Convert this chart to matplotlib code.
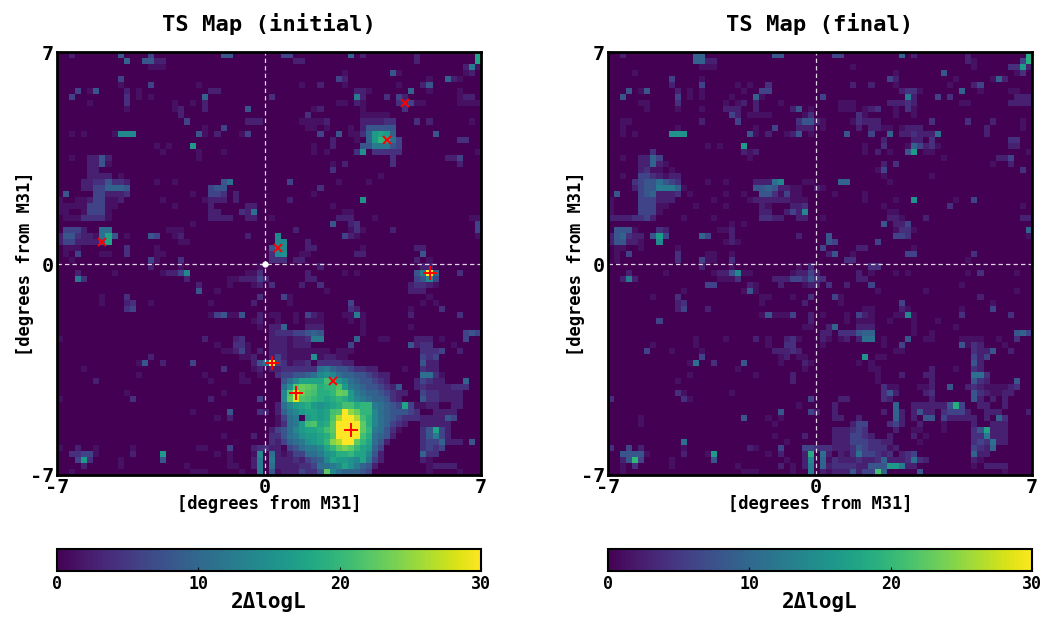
import matplotlib
matplotlib.use("Agg")
import matplotlib.pyplot as plt
import numpy as np

# TS levels, 70x70 cells, row 0 at the top
# sparse quadrants are {row: {col: level}}, anything missing is 0
# dense quadrants are {row: [(first col, [levels]), ...]}
initial_tl = {
    0: {2: 3, 10: 6, 15: 5, 27: 6, 28: 6},
    1: {11: 7, 14: 6, 15: 6, 16: 3, 17: 3},
    2: {15: 2, 16: 2, 17: 2},
    4: {10: 5},
    5: {10: 2, 15: 5, 23: 2},
    6: {3: 5, 5: 2, 6: 6, 11: 3, 13: 2, 25: 3, 26: 3},
    7: {2: 5, 11: 4, 13: 2, 15: 2, 24: 7},
    8: {5: 2, 11: 4, 19: 2, 22: 2, 24: 3},
    9: {11: 2, 19: 2, 20: 3, 24: 3, 31: 6},
    10: {20: 3},
    11: {21: 5, 31: 3, 32: 3, 33: 3},
    12: {24: 2, 27: 5},
    13: {2: 2, 4: 2, 9: 2, 10: 10, 11: 10, 12: 10, 23: 6, 24: 2, 26: 3, 30: 2, 31: 5},
    15: {16: 2, 18: 2, 22: 12},
    16: {17: 2, 23: 2, 27: 2},
    17: {2: 2, 5: 3, 6: 3, 7: 6, 8: 3, 23: 2},
    18: {5: 3, 6: 3, 7: 6, 8: 2},
    19: {5: 3, 6: 3},
    20: {5: 3, 6: 3, 7: 3, 8: 3, 10: 2},
    21: {4: 3, 5: 3, 6: 4, 7: 4, 8: 6, 9: 4, 10: 4, 11: 3, 16: 2, 19: 2, 27: 6, 28: 8},
    22: {4: 3, 5: 3, 6: 5, 7: 5, 8: 7, 9: 7, 10: 7, 11: 6, 25: 5, 26: 6, 27: 6},
    23: {1: 6, 6: 5, 7: 5, 8: 3, 9: 3, 10: 3, 11: 4, 22: 2, 25: 5, 26: 5, 27: 4, 29: 3},
    24: {0: 2, 3: 2, 4: 2, 5: 3, 6: 5, 7: 5, 8: 2, 9: 2, 10: 3, 17: 2, 24: 2, 25: 3, 26: 3, 27: 3, 29: 3},
    25: {0: 2, 1: 2, 2: 2, 3: 2, 4: 2, 5: 5, 6: 5, 7: 5, 8: 2, 9: 2, 19: 2, 25: 3, 31: 3, 32: 3},
    26: {0: 2, 1: 2, 4: 2, 5: 5, 6: 5, 7: 5, 8: 2, 25: 3, 26: 3, 30: 4, 31: 3, 32: 8},
    27: {1: 2, 2: 2, 3: 2, 4: 4, 5: 4, 6: 4, 7: 4, 8: 2, 25: 3, 26: 3, 27: 3, 28: 3, 31: 3, 32: 3},
    28: {22: 2},
    29: {1: 5, 2: 5, 3: 5, 4: 3, 7: 8, 8: 8, 18: 2, 19: 2, 20: 2},
    30: {0: 3, 1: 6, 2: 6, 3: 4, 4: 3, 5: 3, 6: 2, 7: 8, 8: 13, 9: 6, 11: 2, 15: 6, 16: 5, 19: 2, 20: 3, 31: 3},
    31: {0: 3, 1: 5, 2: 5, 3: 3, 4: 3, 5: 3, 6: 3, 7: 6, 8: 13, 20: 2, 21: 2},
    32: {1: 2, 2: 2, 3: 2, 11: 4, 16: 2},
    33: {1: 2, 3: 5, 7: 2, 8: 2, 11: 4, 16: 2, 17: 2},
    34: {2: 2, 15: 5, 16: 2, 20: 4},
}
initial_tr = {
    0: {37: 5, 38: 5, 48: 7, 50: 3, 59: 3, 69: 13},
    1: {39: 3, 40: 3, 59: 3, 69: 13},
    2: {67: 3, 68: 9, 69: 2},
    3: {47: 2, 55: 6, 56: 2, 67: 2, 68: 3},
    4: {46: 5, 47: 3, 61: 2, 64: 7, 65: 3, 66: 2},
    5: {40: 2, 43: 3, 47: 2, 56: 2, 60: 3, 61: 6},
    6: {49: 3, 50: 3, 51: 2, 58: 7, 61: 2, 66: 2},
    7: {35: 4, 49: 9, 50: 3, 54: 4, 56: 5, 57: 3, 66: 2, 67: 3, 68: 3},
    8: {46: 2, 47: 2, 49: 3, 50: 2, 56: 4, 57: 4, 58: 5, 59: 2, 60: 2, 66: 2, 67: 2, 68: 2, 69: 2},
    9: {42: 2, 43: 3, 50: 2, 57: 4},
    10: {41: 4, 50: 2, 51: 2, 52: 2, 53: 2, 54: 2},
    11: {40: 2, 41: 2, 42: 2, 43: 2, 44: 3, 50: 3, 51: 3, 52: 3, 53: 3, 54: 4, 55: 4, 59: 4, 61: 3, 68: 2},
    12: {41: 2, 42: 2, 44: 2, 48: 2, 50: 3, 51: 6, 52: 6, 53: 6, 54: 6, 55: 6},
    13: {43: 5, 46: 6, 48: 2, 49: 2, 50: 4, 51: 7, 52: 12, 53: 13, 54: 12, 55: 7, 62: 6},
    14: {45: 3, 49: 2, 51: 7, 52: 12, 53: 15, 54: 14, 55: 8, 56: 5, 66: 4, 67: 4},
    15: {42: 2, 45: 3, 50: 6, 51: 6, 52: 9, 53: 9, 54: 9, 55: 6, 56: 5},
    16: {42: 2, 44: 2, 49: 4, 50: 11, 52: 4, 53: 4, 54: 4, 55: 4, 56: 4, 69: 2},
    17: {55: 4, 64: 3, 65: 3, 66: 5},
    18: {45: 2, 47: 3, 55: 4, 66: 3},
    19: {45: 4},
    20: {53: 2},
    21: {38: 5, 46: 2, 51: 2},
    22: {43: 4},
    23: {42: 2},
    24: {38: 3, 50: 11},
    25: {45: 2},
    26: {47: 2, 48: 2},
    27: {35: 2, 46: 3, 47: 3, 48: 3, 52: 2, 68: 2, 69: 2},
    28: {45: 6, 48: 3, 49: 4, 69: 5},
    29: {39: 3, 48: 2, 49: 4, 50: 2, 55: 3, 69: 5},
    30: {36: 10, 47: 5, 48: 3, 49: 2, 69: 2},
    31: {36: 10, 37: 10, 41: 3},
    32: {35: 6, 36: 10, 37: 10, 41: 3, 42: 3, 50: 2, 59: 3, 60: 3},
    33: {35: 4, 36: 10, 37: 11, 40: 2, 41: 2, 49: 3, 50: 3, 60: 6},
    34: {35: 4, 36: 4, 37: 4, 39: 3, 40: 3, 59: 3, 61: 2},
}
initial_bl = {
    35: {15: 3, 20: 2, 33: 2},
    36: {3: 3, 9: 2, 17: 2, 18: 3, 19: 3, 20: 5, 21: 10, 31: 2, 32: 2, 33: 4},
    37: {3: 9, 4: 4, 21: 3, 28: 2, 29: 2, 30: 3, 31: 3, 32: 3, 33: 5, 34: 3},
    38: {23: 3, 28: 2, 32: 2, 33: 3},
    39: {23: 6, 26: 2},
    40: {7: 2, 11: 4, 33: 4},
    41: {7: 2, 11: 3, 12: 4, 15: 2, 25: 2, 32: 3},
    42: {11: 4, 12: 5},
    43: {25: 2, 26: 5, 27: 6, 28: 2, 29: 2, 30: 6, 33: 3},
    44: {32: 2, 33: 3},
    45: {33: 2},
    47: {0: 2, 24: 3, 29: 3, 30: 4},
    48: {26: 2, 29: 4, 30: 4, 31: 2},
    49: {27: 2, 28: 2, 29: 3, 30: 5, 31: 2, 33: 3},
    50: {15: 3, 30: 2, 31: 2, 32: 3},
    51: {13: 2, 14: 6, 17: 3, 22: 5, 32: 3, 33: 6, 34: 8},
    52: {4: 2, 27: 4, 32: 2, 33: 3},
    53: {13: 2, 24: 2, 30: 2, 33: 2},
    54: {6: 3, 25: 2, 30: 2, 31: 2},
    56: {11: 2, 27: 2},
    57: {0: 2, 12: 4, 25: 3, 33: 5},
    59: {22: 2, 28: 6, 33: 4, 34: 3},
    60: {26: 2, 28: 3},
    63: {27: 2, 32: 3},
    64: {29: 1},
    65: {0: 2, 3: 3, 6: 2, 12: 2, 23: 2, 24: 2, 28: 5, 32: 3, 33: 4, 34: 4},
    66: {2: 4, 3: 4, 4: 5, 5: 5, 6: 2, 12: 3, 17: 12, 26: 2, 28: 2, 32: 2, 33: 10},
    67: {3: 5, 4: 12, 5: 4, 10: 2, 17: 6, 28: 2, 32: 3, 33: 9},
    68: {4: 3, 10: 2, 21: 2, 28: 2, 29: 2, 32: 3, 33: 9},
    69: {2: 2, 22: 2, 23: 2, 24: 2, 30: 2, 33: 9},
}
initial_br = {
    35: [(43, [3]), (60, [3, 3])],
    36: [(41, [3]), (47, [2]), (49, [2]), (59, [6, 9, 30, 7]), (66, [4])],
    37: [(41, [3, 3]), (59, [5, 6, 10, 5])],
    38: [(35, [4]), (40, [3]), (43, [4]), (58, [3, 4, 4, 3, 2])],
    39: [(44, [2]), (58, [3, 3, 3])],
    40: [(37, [5, 2]), (61, [2])],
    41: [(38, [2]), (48, [5]), (60, [2]), (62, [2])],
    42: [(48, [4, 3]), (58, [2]), (63, [4])],
    43: [(35, [2, 2]), (39, [2]), (41, [5, 3, 2]), (47, [2, 2, 9, 2]), (58, [3]), (66, [4])],
    44: [(36, [2]), (39, [2]), (41, [2, 2, 2]), (48, [2]), (50, [2])],
    45: [(35, [3, 3, 7]), (41, [3, 3, 3]), (50, [2]), (58, [2])],
    46: [(35, [3, 4, 4, 4, 5, 5, 6, 7, 6]), (50, [2]), (67, [5, 6, 5])],
    47: [(35, [3, 3, 3, 2, 3, 3, 4, 9, 9]), (49, [7]), (53, [2, 2]), (59, [3, 3, 3]), (63, [2]), (67, [5])],
    48: [(35, [3, 3, 3, 2, 3, 3, 3]), (48, [5]), (58, [6, 3, 4, 4]), (65, [2])],
    49: [(35, [3, 3, 3, 2, 2, 2, 2, 2, 2, 2]), (46, [2, 2, 2]), (60, [4, 4, 4, 5]), (66, [3])],
    50: [(35, [3, 5, 3, 2, 2, 2, 2, 11, 2, 3, 3, 2, 2]), (60, [5, 4, 5])],
    51: [(35, [30, 5, 4, 2, 3, 3, 4, 1, 4, 4, 4, 4, 3, 3]), (60, [6, 3, 3])],
    52: [(35, [3, 3, 4, 4, 4, 4, 4, 4, 8, 9, 7, 6, 6, 5, 4, 4, 3, 3]), (57, [2]), (60, [4, 3, 3])],
    53: [(36, [4, 5, 5, 6, 6, 7, 8, 10, 11, 10, 8, 7, 7, 6, 6, 5, 4, 3, 3]), (60, [8, 8, 4, 2])],
    54: [(37, [6, 8, 10, 13, 13, 13, 13, 16, 15, 12, 10, 8, 7, 6, 6, 5, 4, 3]), (59, [3, 5, 4, 3, 3]), (67, [7])],
    55: [(37, [8, 11, 17, 19, 18, 17, 14, 15, 15, 17, 12, 9, 8, 7, 6, 6, 5, 4, 3, 6]), (59, [3, 4, 3, 3, 3, 3, 4, 4, 4])],
    56: [(37, [10, 17, 28, 19, 17, 16, 14, 14, 15, 19, 18, 12, 9, 8, 7, 7, 6, 5, 4, 3, 3]), (60, [5, 4, 4, 3, 3, 3, 3])],
    57: [(37, [10, 18, 28, 17, 16, 15, 14, 13, 14, 15, 14, 12, 10, 9, 8, 7, 7, 6, 4, 3]), (60, [6, 4, 4, 3, 3, 3, 3])],
    58: [(36, [3, 8, 10, 12, 13, 14, 12, 11, 12, 13, 14, 16, 16, 14, 15, 15, 9, 8, 7, 6, 5, 13, 5, 2, 2, 3, 3]), (65, [3, 3])],
    59: [(36, [3, 7, 9, 10, 12, 13, 13, 12, 13, 16, 17, 30, 22, 19, 15, 15, 10, 8, 7, 6, 6, 6, 5, 4]), (62, [3, 3, 3, 3])],
    60: [(36, [2, 5, 8, 9, 1, 12, 13, 12, 13, 17, 24, 30, 30, 24, 16, 14, 10, 8, 7, 6, 5, 4, 4, 4, 3, 3, 3, 3, 6, 5])],
    61: [(36, [2, 4, 8, 9, 12, 16, 17, 13, 14, 18, 30, 30, 30, 30, 18, 14, 10, 8, 7, 5, 4, 3]), (60, [3, 3, 3, 3, 3])],
    62: [(35, [3, 5, 6, 8, 10, 12, 13, 13, 14, 16, 18, 30, 30, 30, 30, 18, 15, 9, 8, 6, 4, 2]), (60, [4, 6, 13, 5, 3])],
    63: [(35, [4, 4, 6, 8, 9, 11, 12, 12, 13, 14, 17, 30, 30, 30, 30, 16, 14, 8, 7, 6, 3]), (60, [4, 6, 9, 5, 3])],
    64: [(35, [4, 3, 5, 7, 8, 9, 11, 12, 13, 15, 21, 24, 30, 30, 18, 15, 13, 8, 6, 3]), (60, [4, 5, 5, 7, 3, 3, 3]), (68, [6])],
    65: [(35, [3, 3, 1, 5, 6, 8, 9, 9, 10, 13, 15, 18, 20, 18, 15, 13, 12, 7, 5]), (60, [4, 5, 4, 5])],
    66: [(35, [8, 3, 2, 3, 5, 5, 8, 8, 9, 11, 12, 14, 14, 15, 13, 13, 10, 6, 3]), (60, [7, 4, 4])],
    67: [(35, [9, 3, 3, 3, 4, 3, 5, 6, 7, 10, 13, 12, 12, 11, 10, 13, 9, 5, 3]), (60, [3, 2])],
    68: [(35, [8, 3, 3, 3, 3, 4, 4, 5, 8, 8, 9, 10, 13, 11, 9, 7, 6, 3]), (61, [2, 3, 3, 3, 3])],
    69: [(35, [6, 2, 3, 3, 3, 5, 4, 4, 6, 18, 10, 8, 7, 7, 7, 6, 5]), (61, [2]), (66, [2])],
}

final_tl = {
    0: {2: 3, 14: 7, 15: 7, 27: 6, 28: 6},
    1: {14: 7, 15: 7, 16: 3, 17: 3},
    2: {15: 2, 16: 2, 17: 2},
    3: {4: 2},
    4: {10: 5, 15: 2},
    5: {10: 3, 15: 5, 21: 2, 23: 2, 26: 4},
    6: {3: 6, 5: 2, 6: 6, 11: 3, 13: 2, 15: 2, 22: 2, 25: 5, 26: 5},
    7: {2: 6, 11: 5, 13: 2, 15: 2, 20: 2, 24: 7, 25: 2},
    8: {5: 2, 6: 2, 11: 4, 19: 2, 21: 2, 22: 3, 24: 3, 28: 2},
    9: {6: 2, 11: 2, 15: 2, 19: 3, 20: 3, 21: 3, 24: 3, 30: 3, 31: 6, 33: 2},
    10: {20: 5, 21: 3, 23: 2, 24: 2, 25: 2, 26: 2, 32: 2, 33: 4},
    11: {2: 2, 3: 2, 15: 3, 21: 5, 31: 4, 32: 6, 33: 6, 34: 3},
    12: {2: 2, 11: 2, 24: 2, 27: 5, 31: 3, 32: 3, 33: 3},
    13: {2: 2, 4: 2, 10: 11, 11: 11, 12: 11, 23: 6, 24: 2, 26: 3, 29: 2, 30: 3, 31: 6, 33: 2},
    15: {16: 2, 18: 2, 22: 12},
    16: {7: 4, 22: 3, 23: 2, 24: 3},
    17: {2: 2, 5: 3, 6: 3, 7: 7, 8: 5, 23: 2},
    18: {5: 3, 6: 3, 7: 7, 8: 3, 9: 2},
    19: {5: 3, 6: 4, 7: 2, 8: 2, 10: 2},
    20: {2: 2, 5: 5, 6: 5, 7: 4, 8: 3, 9: 2, 10: 3, 11: 3},
    21: {4: 4, 5: 5, 6: 6, 7: 6, 8: 8, 9: 6, 10: 5, 11: 4, 16: 2, 19: 2, 24: 3, 25: 3, 26: 3, 27: 8, 28: 10, 32: 2, 33: 2},
    22: {4: 3, 5: 5, 6: 6, 7: 6, 8: 9, 9: 9, 10: 9, 11: 7, 12: 2, 24: 6, 25: 6, 26: 7, 27: 6, 28: 3, 29: 3, 30: 2, 31: 2, 34: 3},
    23: {1: 6, 5: 5, 6: 6, 7: 7, 8: 3, 9: 3, 10: 3, 11: 4, 13: 2, 19: 2, 22: 2, 25: 6, 26: 6, 27: 4, 28: 2, 29: 5, 30: 2, 31: 2},
    24: {0: 2, 5: 5, 6: 5, 7: 5, 8: 3, 9: 3, 10: 3, 17: 2, 23: 2, 24: 3, 25: 3, 26: 3, 27: 3, 28: 3, 29: 3, 30: 2, 31: 2, 32: 2},
    25: {0: 2, 5: 5, 6: 5, 7: 5, 8: 2, 9: 2, 14: 2, 19: 2, 25: 3, 26: 2, 30: 3, 31: 3, 32: 4},
    26: {0: 2, 5: 5, 6: 5, 7: 5, 8: 2, 25: 3, 26: 3, 29: 3, 30: 5, 31: 3, 32: 10},
    27: {0: 3, 1: 3, 2: 3, 3: 3, 4: 4, 5: 4, 6: 5, 7: 3, 12: 2, 17: 2, 25: 4, 26: 4, 27: 3, 28: 3, 31: 3, 32: 3},
    28: {20: 2, 22: 2},
    29: {1: 6, 2: 6, 3: 6, 4: 2, 8: 4, 9: 3, 18: 2, 19: 2, 20: 3},
    30: {0: 3, 1: 6, 2: 7, 3: 4, 4: 3, 5: 3, 7: 6, 8: 12, 9: 5, 15: 7, 16: 5, 20: 3, 31: 3},
    31: {0: 3, 1: 6, 2: 6, 3: 3, 4: 3, 5: 2, 8: 10, 19: 2, 20: 3, 21: 2},
    32: {1: 2, 2: 2, 5: 2, 11: 2},
    33: {1: 2, 3: 5, 11: 4, 16: 2, 17: 2, 20: 2},
    34: {1: 2, 11: 4, 15: 5, 16: 2, 17: 2, 20: 4},
}
final_tr = {
    0: {37: 5, 38: 5, 48: 7, 50: 3, 59: 3, 69: 14},
    1: {59: 3, 60: 2, 68: 5, 69: 14},
    2: {40: 2, 60: 2, 66: 4, 67: 4, 68: 12, 69: 3},
    3: {47: 2, 55: 6, 67: 2, 68: 4},
    4: {46: 5, 47: 3, 57: 2, 63: 2, 64: 7, 65: 3},
    5: {40: 3, 43: 3, 47: 2, 56: 2, 60: 3, 61: 5},
    6: {48: 3, 49: 4, 50: 4, 51: 2, 58: 7, 61: 2, 66: 2, 67: 2},
    7: {35: 5, 49: 9, 50: 3, 54: 5, 56: 4, 67: 3, 68: 3, 69: 3},
    8: {38: 2, 39: 2, 40: 2, 46: 3, 47: 3, 48: 3, 49: 4, 50: 3, 58: 2, 59: 2, 66: 3, 67: 3, 68: 3, 69: 3},
    9: {38: 2, 39: 2, 40: 2, 42: 2, 43: 3, 44: 4, 47: 2, 49: 4, 50: 2},
    10: {41: 4, 42: 2, 47: 2, 50: 2},
    11: {35: 2, 40: 2, 41: 4, 42: 3, 43: 3, 44: 3, 53: 4, 59: 4, 63: 3, 68: 2},
    12: {35: 2, 41: 3, 43: 3, 44: 3, 45: 2, 46: 2, 48: 2, 49: 3, 50: 3, 51: 3, 62: 3, 68: 2},
    13: {39: 6, 43: 5, 46: 7, 48: 3, 49: 3, 50: 4, 51: 3, 52: 3, 53: 3, 54: 8, 62: 3},
    14: {45: 3, 50: 3, 51: 3, 53: 4, 66: 4, 67: 4},
    15: {42: 2, 45: 4, 49: 2, 50: 7, 51: 5, 52: 3, 53: 4, 54: 2, 66: 3, 67: 3},
    16: {42: 2, 44: 3, 46: 2, 49: 6, 50: 12, 52: 2, 53: 2, 69: 2},
    17: {55: 2, 64: 3, 65: 3, 66: 5},
    18: {45: 3, 47: 4, 63: 2, 66: 3},
    19: {44: 2, 45: 5, 68: 4},
    20: {45: 2, 53: 2},
    21: {38: 7, 39: 7, 46: 2},
    22: {35: 2},
    23: {37: 2, 42: 2},
    24: {42: 2, 47: 2, 50: 11, 57: 2, 60: 5},
    25: {45: 2, 56: 4, 68: 2},
    26: {46: 2, 47: 2},
    27: {35: 2, 46: 3, 47: 3, 48: 2, 52: 3, 68: 3, 69: 3},
    28: {45: 6, 47: 3, 48: 3, 49: 5},
    29: {47: 2, 48: 4, 49: 4, 50: 2, 69: 7},
    30: {36: 6, 47: 5, 48: 5, 49: 4, 69: 2},
    31: {36: 6, 37: 5, 44: 5},
    32: {35: 5, 41: 3, 42: 3, 50: 2},
    33: {36: 3, 37: 6, 40: 2, 49: 5, 50: 5, 60: 4},
    34: {39: 4, 40: 4, 59: 2},
}
final_bl = {
    35: {15: 3, 20: 2, 31: 2, 33: 4},
    36: {3: 3, 9: 2, 17: 2, 18: 3, 19: 3, 20: 6, 21: 10, 22: 2, 23: 2, 30: 2, 31: 3, 32: 3, 33: 5, 34: 3},
    37: {2: 3, 3: 9, 4: 3, 18: 2, 19: 2, 20: 2, 21: 4, 27: 3, 28: 3, 29: 3, 30: 5, 31: 5, 32: 4, 33: 6, 34: 4},
    38: {16: 5, 17: 5, 23: 3, 24: 2, 28: 3, 32: 2, 33: 3, 34: 3},
    39: {12: 2, 22: 2, 23: 6, 24: 2},
    40: {7: 2, 11: 4, 25: 2, 26: 2, 30: 2, 33: 4},
    41: {11: 3, 12: 4, 25: 2, 32: 3},
    42: {11: 3, 12: 5, 16: 3},
    43: {25: 2, 26: 6, 27: 2, 28: 2, 29: 2, 30: 5, 33: 3},
    44: {8: 5, 33: 3},
    45: {32: 2, 33: 2},
    47: {14: 2, 19: 2, 24: 3, 26: 2, 29: 3, 30: 4, 31: 2},
    48: {7: 2, 14: 2, 26: 2, 29: 4, 30: 4},
    49: {6: 5, 10: 2, 15: 2, 27: 3, 28: 3, 29: 3, 30: 4, 31: 3},
    50: {15: 5, 28: 2, 29: 3, 31: 2, 32: 2},
    51: {13: 2, 14: 8, 17: 4, 22: 6, 28: 2, 32: 3, 33: 2},
    52: {21: 2, 32: 2},
    53: {13: 2, 24: 2, 30: 3},
    54: {11: 2, 30: 3},
    56: {11: 4, 12: 2, 20: 2},
    57: {0: 4, 12: 4, 13: 2, 33: 5},
    58: {31: 2},
    59: {28: 6, 33: 5, 34: 3},
    60: {5: 2, 22: 6, 26: 2, 28: 2},
    61: {5: 2, 27: 2},
    63: {27: 2, 32: 3},
    64: {12: 8, 29: 2},
    65: {0: 4, 3: 5, 5: 3, 12: 2, 23: 3, 24: 2, 28: 5, 32: 5, 33: 5, 34: 4},
    66: {2: 6, 3: 6, 4: 6, 5: 6, 6: 2, 12: 3, 16: 2, 17: 12, 26: 2, 28: 3, 32: 3, 33: 14},
    67: {2: 3, 3: 6, 4: 15, 5: 5, 10: 2, 17: 6, 29: 2, 32: 3, 33: 10},
    68: {2: 2, 4: 4, 10: 2, 21: 2, 28: 3, 30: 2, 32: 3, 33: 9},
    69: {2: 2, 22: 2, 23: 2, 24: 2, 30: 2, 33: 9},
}
final_br = {
    35: [(43, [4, 4])],
    36: [(41, [3]), (43, [2]), (47, [2]), (49, [2]), (59, [2]), (61, [4]), (67, [2])],
    37: [(35, [4]), (41, [3, 3])],
    38: [(36, [4]), (39, [3]), (43, [5]), (58, [2])],
    39: [(44, [2]), (52, [2]), (67, [2])],
    40: [(37, [5, 2]), (61, [3])],
    41: [(38, [2]), (48, [5]), (63, [2])],
    42: [(42, [2, 2]), (48, [3, 2]), (58, [2]), (63, [5])],
    43: [(35, [2]), (39, [2]), (41, [5, 3, 2]), (47, [2, 2, 10, 2]), (58, [4]), (66, [4])],
    44: [(39, [2]), (41, [2, 2, 2]), (46, [2]), (50, [2]), (54, [2])],
    45: [(36, [3, 7]), (41, [3, 3, 3]), (50, [2]), (57, [2])],
    46: [(35, [3, 3]), (38, [4, 4, 4, 6, 7, 7]), (50, [2]), (53, [2]), (67, [6, 7, 5])],
    47: [(35, [3, 2]), (38, [2, 3]), (41, [3, 8, 8]), (45, [2]), (49, [6]), (52, [2, 2]), (58, [2, 2, 2, 2]), (64, [2]), (67, [4])],
    48: [(35, [2]), (45, [2]), (48, [5]), (58, [6, 2, 4, 3]), (65, [2])],
    49: [(47, [2, 2]), (60, [4, 3, 3, 6]), (66, [3])],
    50: [(42, [11]), (44, [2, 2]), (60, [5, 3, 5])],
    51: [(41, [2]), (43, [2]), (60, [6, 3])],
    52: [(43, [2, 2]), (53, [3]), (57, [2]), (60, [4, 3])],
    53: [(44, [2]), (48, [3]), (52, [3, 3]), (60, [8, 8, 4])],
    54: [(44, [2]), (53, [3]), (60, [6, 4, 3]), (67, [6])],
    55: [(45, [4, 2, 2]), (51, [2, 2, 3]), (56, [6]), (59, [3, 4, 3, 2, 2, 2, 2, 3, 4])],
    56: [(45, [4, 6, 3]), (52, [3, 4]), (60, [6, 4, 3, 2, 2, 3, 3])],
    57: [(38, [3, 3]), (45, [4, 3]), (53, [3]), (60, [6, 3]), (63, [3]), (65, [3])],
    58: [(37, [3]), (47, [7]), (50, [3, 3, 3, 3, 3, 3, 6, 14, 5]), (61, [3, 3]), (65, [3])],
    59: [(37, [3]), (45, [3]), (47, [7, 3]), (50, [3, 6, 3, 3]), (55, [4, 5, 5, 5, 3]), (62, [3, 3, 3]), (69, [3])],
    60: [(37, [3, 3]), (41, [3]), (47, [7, 3]), (50, [3]), (52, [6, 6]), (55, [5, 3, 3, 3, 3, 3]), (62, [3]), (64, [7, 4])],
    61: [(40, [3, 5, 5]), (46, [4, 5, 3]), (51, [3]), (55, [2]), (60, [3]), (63, [3, 3, 3])],
    62: [(37, [3, 3, 3, 4, 5, 4]), (47, [3]), (50, [2, 2]), (55, [2]), (60, [4, 6, 13, 3, 3, 3])],
    63: [(37, [3, 3, 3, 5, 5, 4, 3]), (46, [3]), (50, [3]), (52, [2]), (60, [4, 4, 9, 3, 3, 3])],
    64: [(37, [3, 3, 3, 5, 5, 5, 4, 4, 3, 3]), (51, [2]), (60, [4, 5, 4, 8, 3, 3])],
    65: [(35, [4, 4, 3, 3, 3, 4, 6, 5, 4, 4, 4, 2, 3]), (60, [5, 4, 3, 7])],
    66: [(35, [8, 3]), (38, [3, 2, 4, 8, 5, 5, 4, 3, 4]), (48, [3, 4, 5]), (60, [7, 3, 3])],
    67: [(35, [7, 2, 4, 3, 3, 3, 4, 3, 3, 4, 7, 3, 3, 3, 4, 8, 4, 3]), (60, [3, 2])],
    68: [(35, [7, 3, 4, 4, 4, 4, 3, 3, 6, 6, 6, 12, 12, 9, 3, 3]), (60, [2]), (62, [3, 3, 3, 3])],
    69: [(35, [3, 2, 3, 3, 3, 6, 3, 5, 5, 16, 7]), (51, [6]), (65, [2])],
}

# the levels above were judged by eye, this is what they mean on the colorbar
level_read = [0, 1, 2, 3, 4, 5, 6, 7, 8, 10, 13, 16, 20, 30]
level_ts = [0, 0.5, 1.3, 2.6, 4, 6, 8, 9.5, 11, 14, 17.5, 21, 24, 30]

# source candidates marked on the initial map, in cell units
x_col = [57.5, 54.5, 7.5, 36.5, 45.5]
x_row = [8.5, 14.5, 31.5, 32.5, 54.5]
plus_col = [61.5, 35.5, 39.5, 48.5]
plus_row = [36.5, 51.5, 56.5, 62.5]

titles = ["TS Map (initial)", "TS Map (final)"]
tick_labels = ["-7", "0", "7"]
cbar_ticks = [0, 10, 20, 30]


def build_map(*tables):
    grid = np.zeros((70, 70))
    for table in tables:
        for row, cells in table.items():
            if isinstance(cells, dict):
                for col, val in cells.items():
                    grid[row, col] = val
            else:
                for col, vals in cells:
                    grid[row, col:col + len(vals)] = vals
    return np.interp(grid, level_read, level_ts)


plt.rcParams["font.family"] = "DejaVu Sans Mono"
plt.rcParams["font.weight"] = "bold"
plt.rcParams["axes.titleweight"] = "bold"
plt.rcParams["axes.labelweight"] = "bold"

fig = plt.figure(figsize=(10.5, 6.2), dpi=100)
W, H = 1050.0, 620.0
maps = [build_map(initial_tl, initial_tr, initial_bl, initial_br),
        build_map(final_tl, final_tr, final_bl, final_br)]

for i, left in enumerate([57, 608]):
    ax = fig.add_axes([left / W, 1 - 475 / H, 424 / W, 423 / H])
    im = ax.imshow(maps[i], cmap="viridis", vmin=0, vmax=30, interpolation="nearest",
                   aspect="auto", extent=(0, 70, 70, 0))
    ax.axvline(34.3, color="white", ls="--", lw=0.9, dashes=(3.5, 2.5), alpha=0.85)
    ax.axhline(35.1, color="white", ls="--", lw=0.9, dashes=(3.5, 2.5), alpha=0.85)
    if i == 0:
        ax.plot(x_col, x_row, "x", color="red", ms=6, mew=1.4)
        ax.plot(plus_col, plus_row, "+", color="red", ms=10, mew=1.4)
        ax.plot([34.3], [35.1], "o", color="white", ms=3.5)
    ax.set_xlim(0, 70)
    ax.set_ylim(70, 0)
    ax.set_xticks([0, 34.3, 70], tick_labels)
    ax.set_yticks([70, 35.1, 0], tick_labels)
    ax.tick_params(length=0, labelsize=14.5, pad=2)
    ax.set_xlabel("[degrees from M31]", fontsize=12.3, labelpad=-1)
    ax.set_ylabel("[degrees from M31]", fontsize=12.3, labelpad=-3)
    ax.set_title(titles[i], fontsize=15.9, pad=15)
    for spine in ax.spines.values():
        spine.set_linewidth(2)

    cax = fig.add_axes([left / W, 1 - 571 / H, 424 / W, 22 / H])
    cb = fig.colorbar(im, cax=cax, orientation="horizontal")
    cb.set_ticks(cbar_ticks)
    cb.ax.tick_params(labelsize=12, length=3, direction="in", pad=3, width=0.8)
    cb.outline.set_linewidth(1.5)
    cb.set_label("2\u0394logL", fontsize=15, labelpad=-1, fontweight="bold")

fig.savefig("out.png", dpi=100)
